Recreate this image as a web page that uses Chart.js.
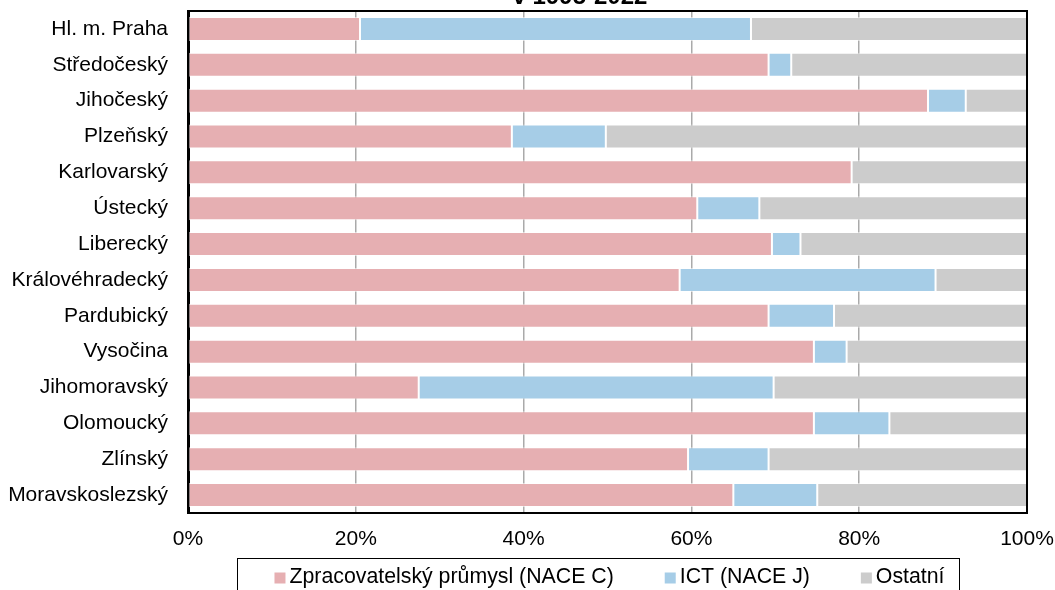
<!DOCTYPE html>
<html><head><meta charset="utf-8">
<script src="https://cdn.jsdelivr.net/npm/chart.js@4/dist/chart.umd.min.js"></script>
<style>html,body{margin:0;padding:0;background:#fff}#wrap{width:1055px;height:590px;position:relative;overflow:hidden}</style>
</head><body><div id="wrap"><canvas id="c" width="1055" height="590"></canvas></div>
<script>
const regions = ['Hl. m. Praha','Středočeský','Jihočeský','Plzeňský','Karlovarský','Ústecký','Liberecký','Královéhradecký','Pardubický','Vysočina','Jihomoravský','Olomoucký','Zlínský','Moravskoslezský'];
const manufacturing = [20.5, 69.2, 88.2, 38.6, 79.1, 60.7, 69.6, 58.6, 69.2, 74.6, 27.5, 74.6, 59.6, 65.0];
const ict           = [46.6,  2.7,  4.5, 11.2,  0.0,  7.4,  3.4, 30.5,  7.8,  3.9, 42.3,  9.0,  9.6, 10.0];
const other         = [32.9, 28.1,  7.3, 50.2, 20.9, 31.9, 27.0, 10.9, 23.0, 21.5, 30.2, 16.4, 30.8, 25.0];
const seriesNames = ['Zpracovatelský průmysl (NACE C)', 'ICT (NACE J)', 'Ostatní'];
const seriesColors = ['#E6AFB2', '#A6CDE7', '#CCCCCC'];
const xTickStep = 20;
const titleText = 'v 1995-2022';

const FONT = 'Liberation Sans, Arial, sans-serif';
const FS = 21;

const framePlugin = {
  id: 'frame',
  afterDatasetsDraw(chart) {
    const {ctx, chartArea: a} = chart;
    ctx.save();
    ctx.strokeStyle = '#000';
    ctx.lineWidth = 2;
    ctx.strokeRect(a.left, a.top, a.right - a.left, a.bottom - a.top);
    ctx.restore();
  }
};

const titlePlugin = {
  id: 'cutTitle',
  afterDraw(chart) {
    const ctx = chart.ctx;
    ctx.save();
    ctx.font = 'bold 24px ' + FONT;
    ctx.fillStyle = '#000';
    ctx.textAlign = 'center';
    ctx.textBaseline = 'alphabetic';
    ctx.fillText(titleText, 580, 4);
    ctx.restore();
  }
};

const legendPlugin = {
  id: 'boxLegend',
  afterDraw(chart) {
    const ctx = chart.ctx;
    ctx.save();
    ctx.font = (FS + 0.3) + 'px ' + FONT;
    const sq = 11, gapText = 4, gapItem = 51;
    const items = chart.data.datasets.map(d => ({label: d.label, color: d.backgroundColor, w: ctx.measureText(d.label).width}));
    let total = 0;
    items.forEach((it, i) => { total += sq + gapText + it.w + (i ? gapItem : 0); });
    let x = 609.5 - total / 2;
    const cy = 577;
    ctx.textBaseline = 'middle';
    ctx.textAlign = 'left';
    items.forEach(it => {
      ctx.fillStyle = it.color;
      ctx.fillRect(x, cy - sq / 2 + 1, sq, sq);
      ctx.fillStyle = '#000';
      ctx.fillText(it.label, x + sq + gapText, cy);
      x += sq + gapText + it.w + gapItem;
    });
    ctx.strokeStyle = '#000';
    ctx.lineWidth = 1;
    ctx.strokeRect(237.5, 558.5, 722, 60);
    ctx.restore();
  }
};

new Chart(document.getElementById('c'), {
  type: 'bar',
  data: {
    labels: regions,
    datasets: [
      {label: seriesNames[0], data: manufacturing, backgroundColor: seriesColors[0]},
      {label: seriesNames[1], data: ict, backgroundColor: seriesColors[1]},
      {label: seriesNames[2], data: other, backgroundColor: seriesColors[2]}
    ].map(d => Object.assign(d, {borderColor: 'rgba(255,255,255,0.55)', borderWidth: 1, borderSkipped: false, categoryPercentage: 1, barPercentage: 0.67}))
  },
  options: {
    indexAxis: 'y',
    responsive: false,
    animation: false,
    devicePixelRatio: 1,
    layout: {padding: {top: 11, right: 28, bottom: 37, left: 0}},
    plugins: {legend: {display: false}, tooltip: {enabled: false}, title: {display: false}},
    scales: {
      x: {
        stacked: true, min: 0, max: 100,
        ticks: {stepSize: xTickStep, callback: v => v + '%', color: '#000', font: {family: FONT, size: FS}, padding: 14, maxRotation: 0},
        grid: {color: '#aaaaaa', lineWidth: 1.5, drawTicks: false},
        border: {display: false},
        afterFit: s => { s.height = 40; s.paddingLeft = 0; s.paddingRight = 0; s.paddingTop = 0; s.paddingBottom = 0; }
      },
      y: {
        stacked: true,
        ticks: {color: '#000', font: {family: FONT, size: FS}, padding: 20},
        grid: {display: false, drawTicks: false},
        border: {display: true, color: '#000', width: 3},
        afterFit: s => { s.width = 188; s.paddingLeft = 0; s.paddingRight = 0; s.paddingTop = 0; s.paddingBottom = 0; }
      }
    }
  },
  plugins: [framePlugin, titlePlugin, legendPlugin]
});
</script></body></html>
